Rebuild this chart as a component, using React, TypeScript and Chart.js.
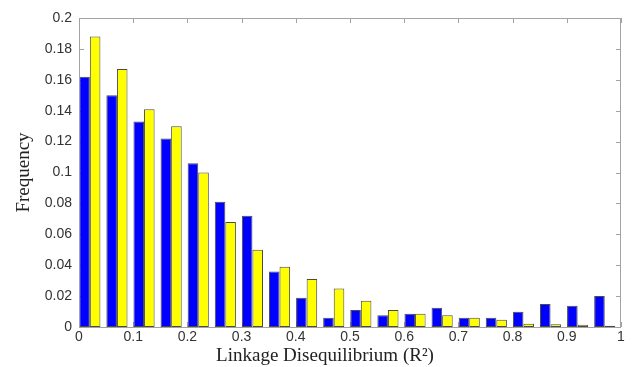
import React, { useEffect, useRef } from "react";
import { Chart, registerables } from "chart.js";

Chart.register(...registerables);

const binCenters = [0.02, 0.07, 0.12, 0.17, 0.22, 0.27, 0.32, 0.37, 0.42, 0.47, 0.52, 0.57, 0.62, 0.67, 0.72, 0.77, 0.82, 0.87, 0.92, 0.97];
const blueSeries = [0.162, 0.150, 0.133, 0.122, 0.106, 0.081, 0.072, 0.036, 0.019, 0.006, 0.011, 0.0076, 0.0086, 0.0125, 0.006, 0.006, 0.0099, 0.0149, 0.0138, 0.0200];
const yellowSeries = [0.188, 0.167, 0.141, 0.130, 0.100, 0.068, 0.050, 0.039, 0.031, 0.025, 0.017, 0.011, 0.0086, 0.0076, 0.006, 0.0047, 0.0021, 0.0017, 0.0015, 0.0008];

const xTickValues = [0, 0.1, 0.2, 0.3, 0.4, 0.5, 0.6, 0.7, 0.8, 0.9, 1];
const xTickLabels = ["0", "0.1", "0.2", "0.3", "0.4", "0.5", "0.6", "0.7", "0.8", "0.9", "1"];
const yTickValues = [0, 0.02, 0.04, 0.06, 0.08, 0.1, 0.12, 0.14, 0.16, 0.18, 0.2];
const yTickLabels = ["0", "0.02", "0.04", "0.06", "0.08", "0.1", "0.12", "0.14", "0.16", "0.18", "0.2"];

const xTitle = "Linkage Disequilibrium (R\u00B2)";
const yTitle = "Frequency";

const FRAME = "#a3a3a3";
const TEXT = "#333333";

const framePlugin = {
  id: "matlabFrame",
  beforeDatasetsDraw(chart: any) {
    const { ctx, chartArea, scales } = chart;
    const { left, right, top, bottom } = chartArea;
    const tl = 5;
    ctx.save();
    ctx.strokeStyle = FRAME;
    ctx.lineWidth = 1;
    ctx.beginPath();
    xTickValues.forEach((v) => {
      const x = Math.round(scales.x.getPixelForValue(v)) + 0.5;
      ctx.moveTo(x, bottom);
      ctx.lineTo(x, bottom - tl);
      ctx.moveTo(x, top);
      ctx.lineTo(x, top + tl);
    });
    yTickValues.forEach((v) => {
      const y = Math.round(scales.y.getPixelForValue(v)) + 0.5;
      ctx.moveTo(left, y);
      ctx.lineTo(left + tl, y);
      ctx.moveTo(right, y);
      ctx.lineTo(right - tl, y);
    });
    ctx.stroke();
    ctx.restore();
  },
  afterDatasetsDraw(chart: any) {
    const { ctx, chartArea } = chart;
    const { left, right, top, bottom } = chartArea;
    ctx.save();
    ctx.strokeStyle = FRAME;
    ctx.lineWidth = 1;
    ctx.strokeRect(Math.round(left) + 0.5, Math.round(top) + 0.5, Math.round(right - left) - 1, Math.round(bottom - top));
    ctx.restore();
  },
  afterDraw(chart: any) {
    const { ctx } = chart;
    ctx.save();
    ctx.fillStyle = "#222";
    ctx.font = "19px 'Liberation Serif', 'Times New Roman', serif";
    ctx.textAlign = "center";
    ctx.textBaseline = "middle";
    ctx.fillText(xTitle, 325, 356);
    ctx.restore();
  },
};

export default function App() {
  const canvasRef = useRef<HTMLCanvasElement | null>(null);

  useEffect(() => {
    if (!canvasRef.current) return;
    const chart = new Chart(canvasRef.current, {
      type: "bar",
      data: {
        datasets: [
          {
            label: "blue",
            data: binCenters.map((x, i) => ({ x, y: blueSeries[i] })),
            backgroundColor: "#0000ff",
            borderColor: "#4a4a4a",
            borderWidth: 1,
            borderSkipped: false,
          },
          {
            label: "yellow",
            data: binCenters.map((x, i) => ({ x, y: yellowSeries[i] })),
            backgroundColor: "#ffff00",
            borderColor: "#4a4a4a",
            borderWidth: 1,
            borderSkipped: false,
          },
        ],
      },
      options: {
        responsive: false,
        animation: false,
        categoryPercentage: 0.78,
        barPercentage: 1,
        layout: { padding: { top: 18, right: 11, left: 0, bottom: 0 } },
        plugins: { legend: { display: false }, tooltip: { enabled: false } },
        scales: {
          x: {
            type: "linear",
            min: 0,
            max: 1,
            offset: false,
            grid: { display: false, drawTicks: false, offset: false },
            border: { display: false },
            afterBuildTicks: (scale: any) => {
              scale.ticks = xTickValues.map((v) => ({ value: v }));
            },
            afterFit: (scale: any) => {
              scale.height = 40;
            },
            ticks: {
              color: TEXT,
              padding: 2,
              maxRotation: 0,
              autoSkip: false,
              font: { family: "'Liberation Sans', Arial, sans-serif", size: 14 },
              callback: (_v: any, i: number) => xTickLabels[i],
            },
          },
          y: {
            min: 0,
            max: 0.2,
            grid: { display: false, drawTicks: false },
            border: { display: false },
            afterBuildTicks: (scale: any) => {
              scale.ticks = yTickValues.map((v) => ({ value: v }));
            },
            afterFit: (scale: any) => {
              scale.width = 79;
            },
            ticks: {
              color: TEXT,
              padding: 7,
              autoSkip: false,
              font: { family: "'Liberation Sans', Arial, sans-serif", size: 14 },
              callback: (_v: any, i: number) => yTickLabels[i],
            },
            title: {
              display: true,
              text: yTitle,
              color: "#222",
              padding: { top: 13, bottom: 0 },
              font: { family: "'Liberation Serif', 'Times New Roman', serif", size: 19, weight: "normal" },
            },
          },
        },
      },
      plugins: [framePlugin],
    });
    return () => chart.destroy();
  }, []);

  return (
    <div style={{ position: "fixed", left: 0, top: 0, width: 632, height: 367, background: "#fff" }}>
      <canvas ref={canvasRef} width={632} height={367} />
    </div>
  );
}
